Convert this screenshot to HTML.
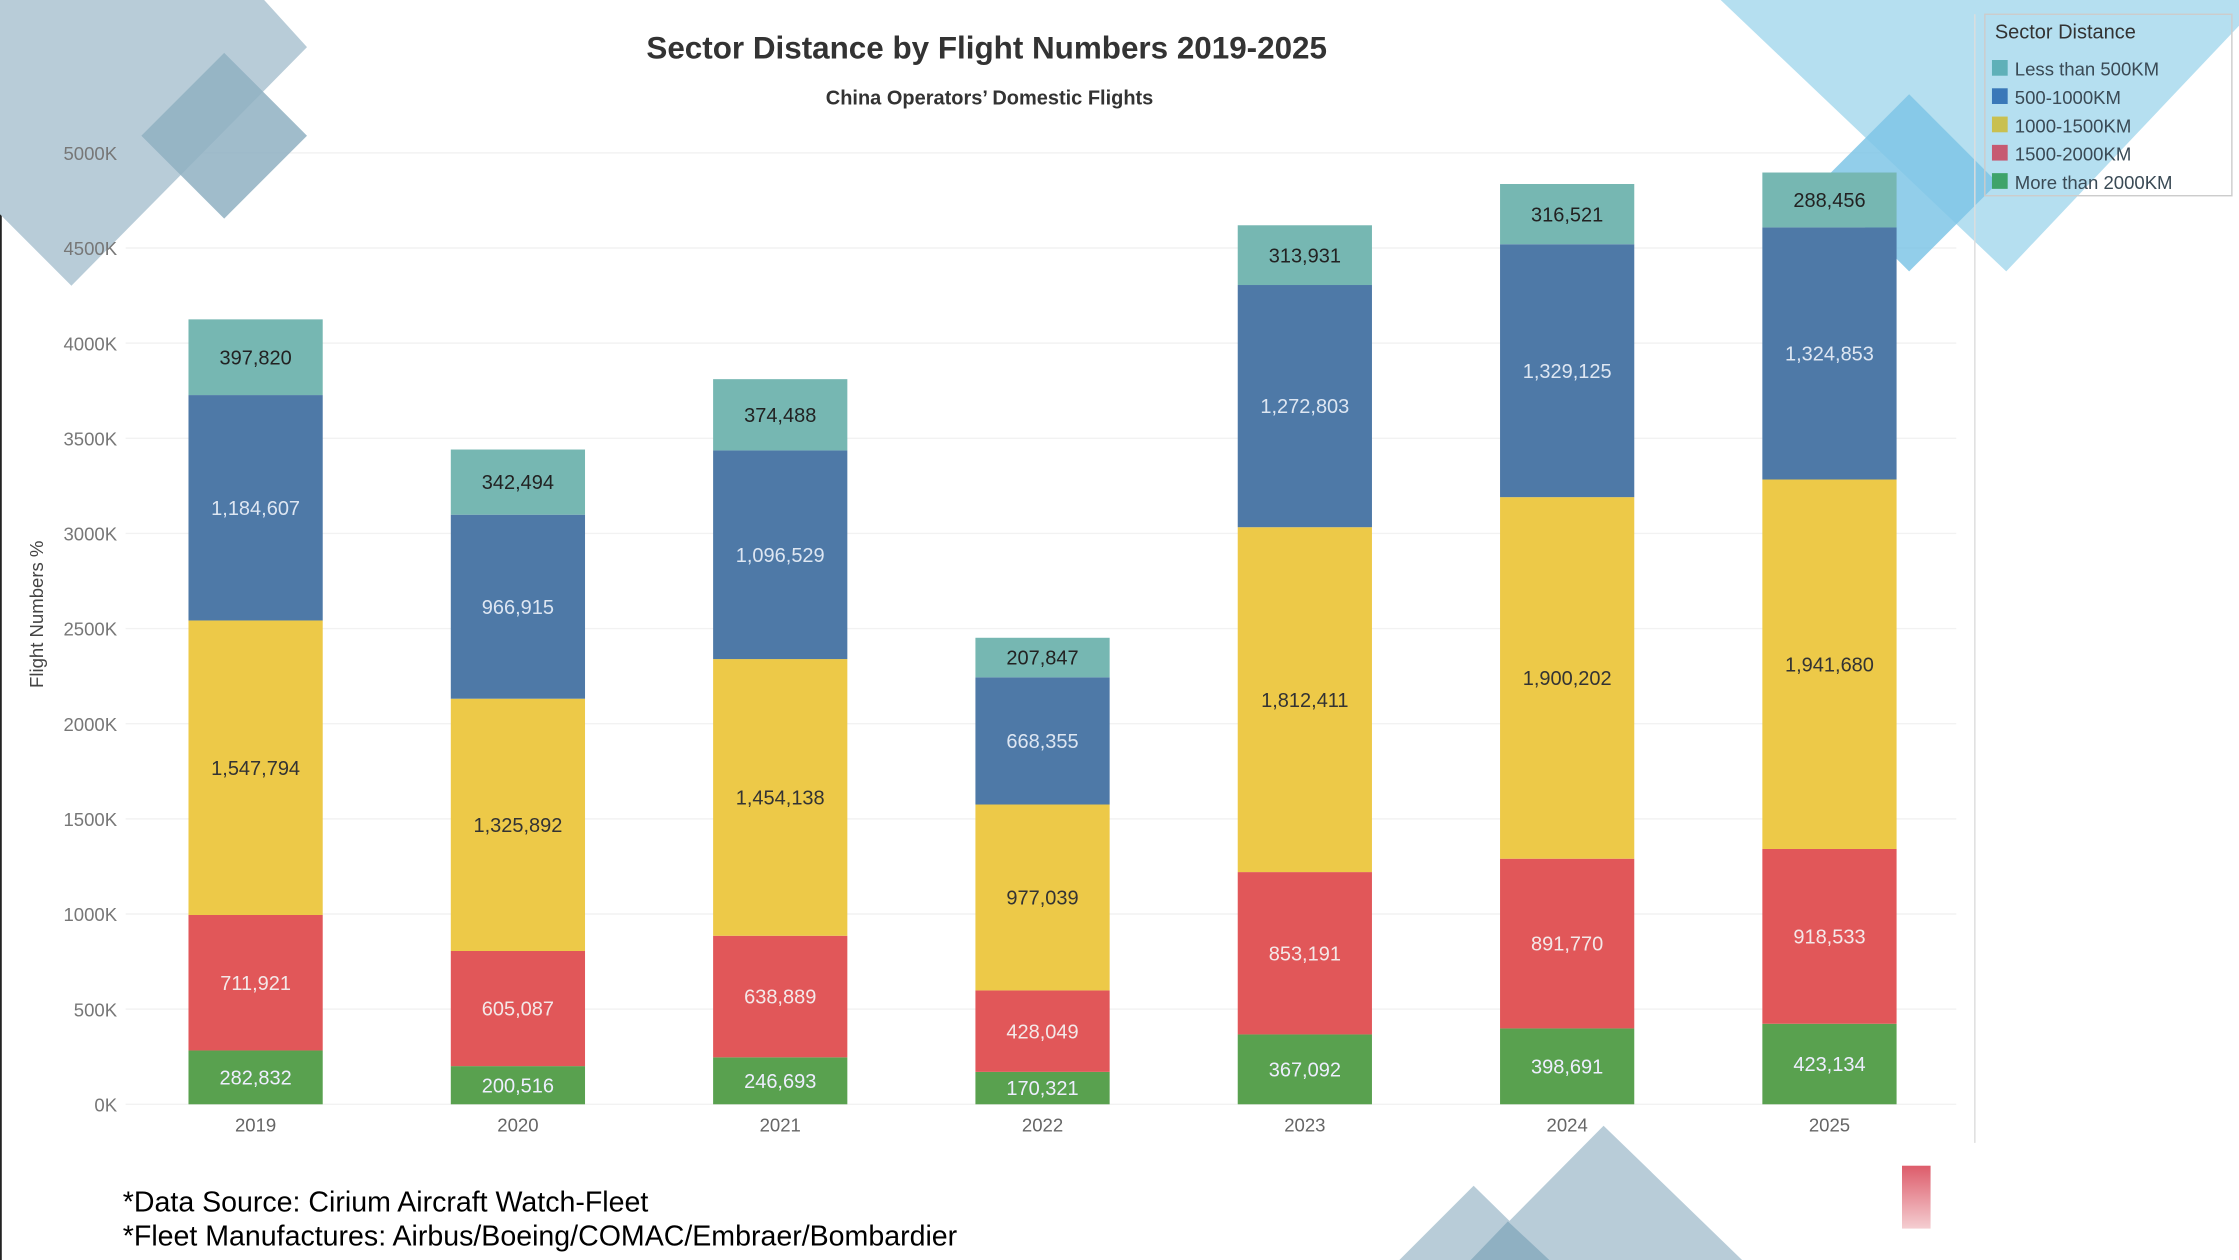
<!DOCTYPE html>
<html><head><meta charset="utf-8"><style>
html,body{margin:0;padding:0;background:#fff;}
svg{display:block;font-family:"Liberation Sans",sans-serif;}
</style></head><body>
<svg id="chart" width="2239" height="1260" viewBox="0 0 1568 882" preserveAspectRatio="none" xmlns="http://www.w3.org/2000/svg">
<defs><linearGradient id="fade" x1="0" y1="0" x2="0" y2="1"><stop offset="0" stop-color="#d94a5a"/><stop offset="1" stop-color="#f3c8cc"/></linearGradient></defs>
<rect width="1568" height="882" fill="#fff"/>
<line x1="0.5" y1="0" x2="0.5" y2="882" stroke="#222" stroke-width="1.5"/>
<g id="grid"></g>
<g>
<polygon points="0,0 185,0 215,33 50,200 0,150" fill="#b8ccd8"/>
<polygon points="157,37 215,95 157,153 99,95" fill="#8fb0c2" opacity="0.85"/>
<polygon points="1205,0 1568,0 1568,18 1405,190" fill="#b5dff0"/>
<polygon points="1337,66 1399,128 1337,190 1275,128" fill="#7fc6e6" opacity="0.85"/>
<polygon points="1123,788 1220,882 1030,882" fill="#b8ccd8"/>
<polygon points="1032,830 1085,882 980,882" fill="#b8ccd8"/>
<polygon points="1056,855 1085,882 1030,882" fill="#8fb0c2"/>
<rect x="1332" y="816" width="20" height="44" fill="url(#fade)" opacity="0.9"/>
</g>
<g id="ylabels"></g>
<text x="691" y="41" text-anchor="middle" font-size="22" font-weight="bold" fill="#333">Sector Distance by Flight Numbers 2019-2025</text>
<text x="693" y="73" text-anchor="middle" font-size="14" font-weight="bold" fill="#333">China Operators’ Domestic Flights</text>
<text transform="translate(30,430) rotate(-90)" text-anchor="middle" font-size="13" fill="#444">Flight Numbers %</text>
<line x1="1383" y1="10" x2="1383" y2="800" stroke="#ddd"/>
<g id="bars"></g>
<g>
<rect x="1390" y="10" width="173" height="127" fill="none" stroke="#ccc"/>
<text x="1397" y="27" font-size="14" fill="#333">Sector Distance</text>
<g id="legend"></g>
</g>
<text x="86" y="848" font-size="20" fill="#000">*Data Source: Cirium Aircraft Watch-Fleet</text>
<text x="86" y="872" font-size="20" fill="#000">*Fleet Manufactures: Airbus/Boeing/COMAC/Embraer/Bombardier</text>
</svg>
<script>
const categories = ["2019","2020","2021","2022","2023","2024","2025"];
const seriesNames = ["More than 2000KM","1500-2000KM","1000-1500KM","500-1000KM","Less than 500KM"];
const more2000 = [282832,200516,246693,170321,367092,398691,423134];
const s1500 = [711921,605087,638889,428049,853191,891770,918533];
const s1000 = [1547794,1325892,1454138,977039,1812411,1900202,1941680];
const s500 = [1184607,966915,1096529,668355,1272803,1329125,1324853];
const less500 = [397820,342494,374488,207847,313931,316521,288456];
const yTicks = [0,500000,1000000,1500000,2000000,2500000,3000000,3500000,4000000,4500000,5000000];
const yTickLabels = ["0K","500K","1000K","1500K","2000K","2500K","3000K","3500K","4000K","4500K","5000K"];
const colors = ["#59a14f","#e15759","#edc948","#4e79a7","#76b7b2"];
const textColors = ["#eef","#f4e8e8","#333","#dde6f2","#222"];
const legendOrder = ["Less than 500KM","500-1000KM","1000-1500KM","1500-2000KM","More than 2000KM"];
const legendColors = ["#5fb0b8","#3a78b8","#c9c050","#c65a72","#3ea36a"];
const NS="http://www.w3.org/2000/svg";
const y0=773, y1=107, yMax=5000000;
function yScale(v){return y0-(v/yMax)*(y0-y1);}
function xScale(i){return 179+i*183.7;}
const barW=94;
const grid=document.getElementById('grid');
const ylabels=document.getElementById('ylabels');
yTicks.forEach((t,i)=>{
  const l=document.createElementNS(NS,'line');
  l.setAttribute('x1',88);l.setAttribute('x2',1370);
  l.setAttribute('y1',yScale(t));l.setAttribute('y2',yScale(t));
  l.setAttribute('stroke','#f2f2f2');
  
  
  grid.appendChild(l);
  const tx=document.createElementNS(NS,'text');
  tx.setAttribute('x',82);tx.setAttribute('y',yScale(t)+5);
  tx.setAttribute('text-anchor','end');tx.setAttribute('font-size','13');tx.setAttribute('fill','#777');
  tx.textContent=yTickLabels[i];
  
  
  ylabels.appendChild(tx);
});
const series=[more2000,s1500,s1000,s500,less500];
const bars=document.getElementById('bars');
categories.forEach((c,i)=>{
  let acc=0;
  series.forEach((s,k)=>{
    const v=s[i];
    const top=yScale(acc+v), bot=yScale(acc);
    const r=document.createElementNS(NS,'rect');
    r.setAttribute('x',xScale(i)-barW/2);r.setAttribute('width',barW);
    r.setAttribute('y',top);r.setAttribute('height',bot-top);
    r.setAttribute('fill',colors[k]);
    
    
    bars.appendChild(r);
    const t=document.createElementNS(NS,'text');
    t.setAttribute('x',xScale(i));t.setAttribute('y',(top+bot)/2+5);
    t.setAttribute('text-anchor','middle');t.setAttribute('font-size','14');
    t.setAttribute('fill',textColors[k]);
    t.textContent=v.toLocaleString('en-US');
    
    
    bars.appendChild(t);
    acc+=v;
  });
  const xl=document.createElementNS(NS,'text');
  xl.setAttribute('x',xScale(i));xl.setAttribute('y',792);
  xl.setAttribute('text-anchor','middle');xl.setAttribute('font-size','13');xl.setAttribute('fill','#666');
  xl.textContent=c;
  
  
  bars.appendChild(xl);
});
const lg=document.getElementById('legend');
legendOrder.forEach((n,i)=>{
  const y=48+i*19.8;
  const r=document.createElementNS(NS,'rect');
  r.setAttribute('x',1395);r.setAttribute('y',y-6);r.setAttribute('width',11);r.setAttribute('height',11);
  r.setAttribute('fill',legendColors[i]);
  
  
  lg.appendChild(r);
  const t=document.createElementNS(NS,'text');
  t.setAttribute('x',1411);t.setAttribute('y',y+5);t.setAttribute('font-size','13');t.setAttribute('fill','#3a4a55');
  t.textContent=n;
  
  
  lg.appendChild(t);
});
</script>
</body></html>
